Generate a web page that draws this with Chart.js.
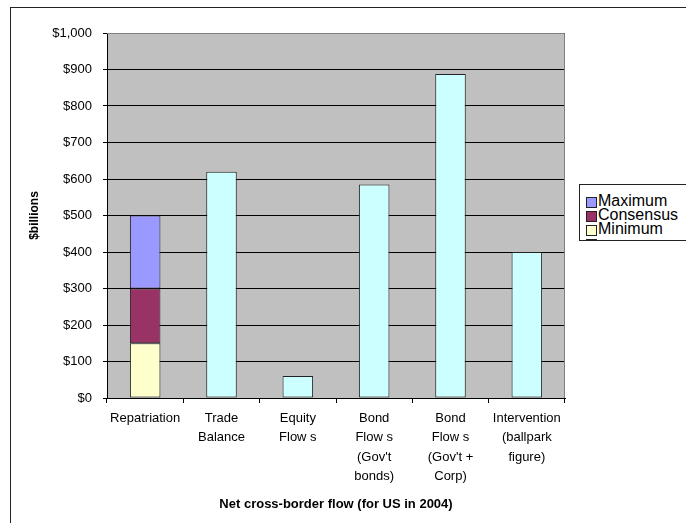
<!DOCTYPE html>
<html>
<head>
<meta charset="utf-8">
<script src="https://cdn.jsdelivr.net/npm/chart.js@4.4.0/dist/chart.umd.min.js"></script>
<style>
    body { margin: 0; background: #fff; font-family: "Liberation Sans", Arial, sans-serif; }
    #wrap { position: relative; width: 686px; height: 523px; overflow: hidden; }
    #frame { position: absolute; left: 10px; top: 7px; width: 700px; height: 540px; border: 1px solid #222; pointer-events: none; }
    #legend { position: absolute; left: 579px; top: 184px; width: 120px; height: 57px; padding-top: 9px; box-sizing: border-box; border: 1px solid #222; background: #fff; overflow: hidden; }
    #legend .row { position: relative; height: 14px; line-height: 14px; font-size: 16px; color: #000; padding-left: 18px; white-space: nowrap; }
    #legend .sw { position: absolute; left: 6px; top: 3px; width: 9px; height: 9px; border: 1px solid #222; }
</style>
</head>
<body>
<div id="wrap">
    <canvas id="flowChart" width="686" height="523"></canvas>
    <div id="frame"></div>
    <div id="legend"></div>
</div>
<script>
// Categories (multi-line labels as shown on the axis)
const categories = [
    ['Repatriation'],
    ['Trade', 'Balance'],
    ['Equity', 'Flow s'],
    ['Bond', 'Flow s', '(Gov\'t', 'bonds)'],
    ['Bond', 'Flow s', '(Gov\'t +', 'Corp)'],
    ['Intervention', '(ballpark', 'figure)']
];

// Repatriation is a stacked range: minimum, then consensus and maximum on top
const minimum   = [150, null, null, null, null, null];
const consensus = [150, null, null, null, null, null];
const maximum   = [200, null, null, null, null, null];
// Other flows, $billions
const flows     = [null, 620, 60, 585, 888, 400];

const yTicks = [0, 100, 200, 300, 400, 500, 600, 700, 800, 900, 1000];

// Grey plot background and frame
const plotBackground = {
    id: 'plotBackground',
    beforeDraw(chart) {
        const a = chart.chartArea;
        const ctx = chart.ctx;
        ctx.save();
        ctx.fillStyle = '#c0c0c0';
        ctx.fillRect(a.left, a.top, a.right - a.left, a.bottom - a.top);
        ctx.restore();
    },
    afterDatasetsDraw(chart) {
        const a = chart.chartArea;
        const ctx = chart.ctx;
        ctx.save();
        ctx.strokeStyle = '#808080';
        ctx.lineWidth = 1;
        ctx.beginPath();
        ctx.moveTo(a.left, a.top + 0.5);
        ctx.lineTo(a.right - 0.5, a.top + 0.5);
        ctx.lineTo(a.right - 0.5, a.bottom);
        ctx.stroke();
        ctx.restore();
    }
};

function createFlowChart() {
    const ctx = document.getElementById('flowChart');
    const series = [
        { label: 'Minimum', data: minimum, color: '#ffffcc' },
        { label: 'Consensus', data: consensus, color: '#993366' },
        { label: 'Maximum', data: maximum, color: '#9999ff' },
        { label: '', data: flows, color: '#ccffff' }
    ];

    new Chart(ctx, {
        type: 'bar',
        data: {
            labels: categories,
            datasets: series.map(s => ({
                label: s.label,
                data: s.data,
                backgroundColor: s.color,
                borderColor: '#222',
                borderWidth: 1,
                borderSkipped: false,
                barPercentage: 0.4,
                categoryPercentage: 1.0
            }))
        },
        options: {
            responsive: false,
            animation: false,
            layout: { padding: { left: 10, top: 33, right: 121, bottom: 8 } },
            plugins: {
                legend: { display: false },
                tooltip: { enabled: false }
            },
            scales: {
                x: {
                    stacked: true,
                    afterFit(scale) { scale.height = 117; },
                    grid: {
                        display: true,
                        offset: true,
                        drawOnChartArea: false,
                        drawTicks: true,
                        tickLength: 5,
                        color: '#000'
                    },
                    border: { display: true, color: '#000', width: 1 },
                    ticks: {
                        color: '#000',
                        maxRotation: 0,
                        autoSkip: false,
                        padding: 6,
                        font: { family: '"Liberation Sans", Arial', size: 13, lineHeight: 1.48 }
                    },
                    title: {
                        display: true,
                        text: 'Net cross-border flow (for US in 2004)',
                        color: '#000',
                        padding: { top: 4, bottom: 3 },
                        font: { family: '"Liberation Sans", Arial', size: 13, weight: 'bold', lineHeight: 1.2 }
                    }
                },
                y: {
                    stacked: true,
                    min: 0,
                    max: 1000,
                    afterFit(scale) { scale.width = 97; },
                    afterBuildTicks(scale) { scale.ticks = yTicks.map(v => ({ value: v })); },
                    grid: {
                        color: '#000',
                        drawTicks: true,
                        tickLength: 4
                    },
                    border: { display: true, color: '#000', width: 1 },
                    ticks: {
                        color: '#000',
                        padding: 11,
                        font: { family: '"Liberation Sans", Arial', size: 13 },
                        callback: v => '$' + v.toLocaleString('en-US')
                    },
                    title: {
                        display: true,
                        text: '$billions',
                        color: '#000',
                        padding: { top: 17, bottom: 0 },
                        font: { family: '"Liberation Sans", Arial', size: 12, weight: 'bold', lineHeight: 1.2 }
                    }
                }
            }
        },
        plugins: [plotBackground]
    });

    // Legend in the Excel order (top of stack first)
    const legend = document.getElementById('legend');
    [series[2], series[1], series[0], series[3]].forEach(s => {
        const row = document.createElement('div');
        row.className = 'row';
        row.innerHTML = '<span class="sw" style="background:' + s.color + '"></span>' + s.label;
        legend.appendChild(row);
    });
}

document.addEventListener('DOMContentLoaded', function() {
    createFlowChart();
});
</script>
</body>
</html>
